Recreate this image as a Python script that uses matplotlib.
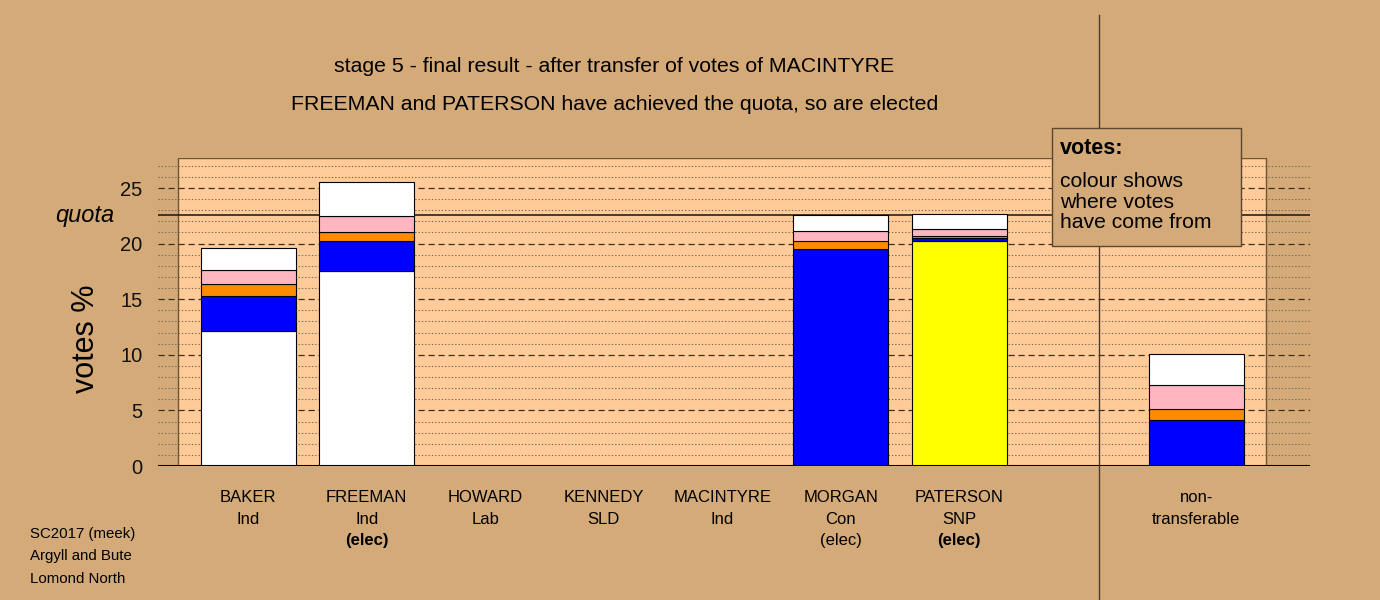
#!/usr/bin/env python3

import matplotlib
matplotlib.use("Agg")
import matplotlib.pyplot as plt
from matplotlib.patches import Rectangle
from matplotlib.lines import Line2D
import matplotlib.transforms as mtransforms

plt.rcParams['font.family'] = ['Liberation Sans', 'DejaVu Sans']

# data (votes %)
candidates = ['BAKER', 'FREEMAN', 'HOWARD', 'KENNEDY', 'MACINTYRE', 'MORGAN', 'PATERSON']
parties = ['Ind', 'Ind', 'Lab', 'SLD', 'Ind', 'Con', 'SNP']
status = ['', '(elec)', '', '', '', '(elec)', '(elec)']
status_bold = [False, True, False, False, False, False, True]

own_votes = [12.1, 17.5, 0, 0, 0, 19.5, 20.2]
own_colours = ['white', 'white', 'lightpink', 'darkorange', 'white', 'blue', 'yellow']
from_con = [3.15, 2.7, 0, 0, 0, 0, 0.27]
from_sld = [1.15, 0.8, 0, 0, 0, 0.7, 0.25]
from_lab = [1.25, 1.45, 0, 0, 0, 0.95, 0.55]
from_ind = [2.0, 3.05, 0, 0, 0, 1.45, 1.35]

# non-transferable pile
nt_con = 4.1
nt_sld = 1.0
nt_lab = 2.15
nt_ind = 2.8

quota = 22.6

BG = '#D4AA78'
PANEL = '#FFCC99'
W, H = 1380, 600


def fx(px):
    return px / W


def fy(py):
    return 1 - py / H


def plot_chart():
    fig = plt.figure(figsize=(13.8, 6), dpi=100, facecolor=BG)
    ax = fig.add_axes([fx(158), fy(466), fx(1310 - 158), (466 - 158) / H])
    ax.set_facecolor('none')
    ax.set_xlim(-0.761, 8.961)
    ax.set_ylim(0, 27.7)
    for s in ax.spines.values():
        s.set_visible(False)

    ax.add_patch(Rectangle((-0.592, 0), 9.181, 27.7, facecolor=PANEL,
                           edgecolor='#6b5438', lw=1, zorder=0))

    # grid
    for v in range(1, 28):
        if v % 5 == 0:
            ax.axhline(v, color='#3d3020', lw=0.9, dashes=(5, 3), zorder=1)
        else:
            ax.axhline(v, color='#7a6a55', lw=0.8, dashes=(1.2, 1.8), zorder=1)
    ax.axhline(quota, color='#222222', lw=1.2, zorder=1)

    # candidate bars
    xs = range(len(candidates))
    width = 0.8
    ax.bar(xs, own_votes, width, color=own_colours, edgecolor='black', lw=0.8, zorder=2)
    bottoms = list(own_votes)
    for vals, col in [(from_con, 'blue'), (from_sld, 'darkorange'),
                      (from_lab, 'lightpink'), (from_ind, 'white')]:
        ax.bar(xs, vals, width, bottom=bottoms, color=col, edgecolor='black',
               lw=0.8, zorder=2)
        bottoms = [b + v for b, v in zip(bottoms, vals)]

    # non-transferable bar
    b = 0.0
    for v, col in [(nt_con, 'blue'), (nt_sld, 'darkorange'),
                   (nt_lab, 'lightpink'), (nt_ind, 'white')]:
        ax.bar(8, v, width, bottom=b, color=col, edgecolor='black', lw=0.8, zorder=2)
        b += v

    ax.axhline(0, color='black', lw=1.5, zorder=3)

    ax.set_xticks([])
    ax.set_yticks([0, 5, 10, 15, 20, 25])
    ax.tick_params(axis='y', length=0, pad=11, labelsize=14.5, labelcolor='#111111')

    # labels under bars
    trans = mtransforms.blended_transform_factory(ax.transData, fig.transFigure)
    for i, name in enumerate(candidates):
        ax.text(i, fy(497), name, transform=trans, ha='center', va='center', fontsize=12)
        ax.text(i, fy(519), parties[i], transform=trans, ha='center', va='center', fontsize=12)
        if status[i]:
            ax.text(i, fy(540), status[i], transform=trans, ha='center', va='center',
                    fontsize=12, fontweight='bold' if status_bold[i] else 'normal')
    ax.text(8, fy(497), 'non-', transform=trans, ha='center', va='center', fontsize=12)
    ax.text(8, fy(519), 'transferable', transform=trans, ha='center', va='center', fontsize=12)

    # quota label
    qtrans = mtransforms.blended_transform_factory(fig.transFigure, ax.transData)
    ax.text(fx(114), quota - 0.1, 'quota', transform=qtrans, ha='right', va='center',
            fontsize=17, style='italic')

    fig.text(fx(86.5), fy(339), 'votes %', rotation=90, ha='center', va='center', fontsize=22)

    fig.text(fx(614), fy(67), 'stage 5 - final result - after transfer of votes of MACINTYRE',
             ha='center', va='center', fontsize=15.3)
    fig.text(fx(615), fy(105), 'FREEMAN and PATERSON have achieved the quota, so are elected',
             ha='center', va='center', fontsize=15.3)

    for txt, py in [('SC2017 (meek)', 534), ('Argyll and Bute', 556), ('Lomond North', 579)]:
        fig.text(fx(30), fy(py), txt, ha='left', va='center', fontsize=10.8)

    # separator
    fig.add_artist(Line2D([fx(1099), fx(1099)], [0, fy(15)], color='#4a3a28', lw=1, zorder=5))

    # legend box
    fig.add_artist(Rectangle((fx(1052), fy(246)), fx(1241 - 1052), (246 - 128) / H,
                             transform=fig.transFigure, facecolor=BG,
                             edgecolor='#5a4630', lw=1, zorder=6))
    fig.text(fx(1060), fy(148), 'votes:', ha='left', va='center', fontsize=15.5,
             fontweight='bold', zorder=7)
    for txt, py in [('colour shows', 181), ('where votes', 202), ('have come from', 223)]:
        fig.text(fx(1060), fy(py), txt, ha='left', va='center', fontsize=15.2, zorder=7)

    fig.savefig('out.png', dpi=100, facecolor=BG)


def main():
    plot_chart()


if __name__ == "__main__":
    main()
